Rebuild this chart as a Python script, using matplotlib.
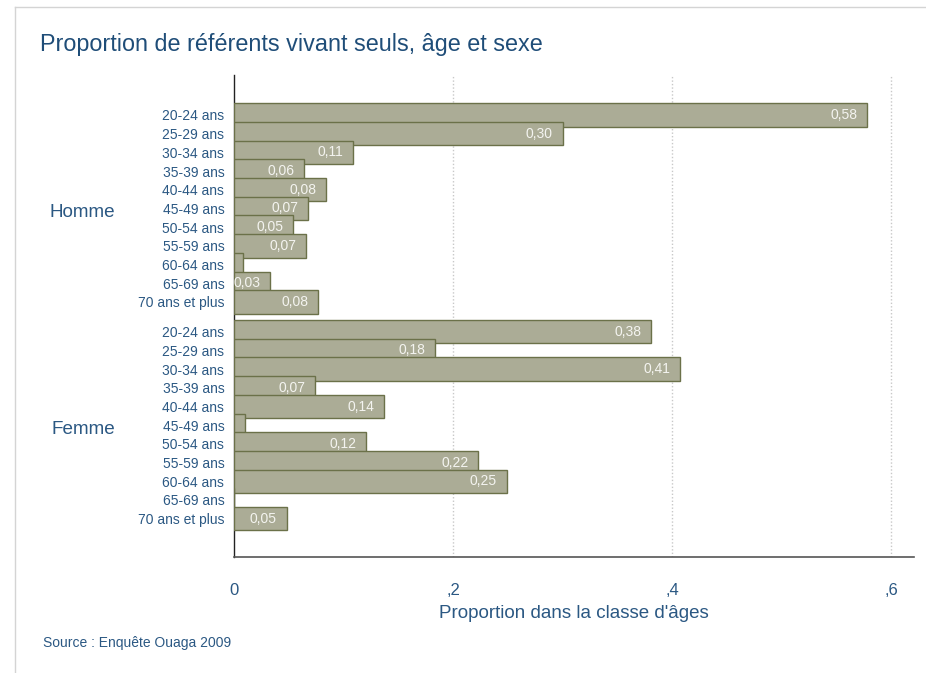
import numpy as np
import matplotlib.pyplot as plt
from matplotlib.lines import Line2D
from matplotlib.transforms import blended_transform_factory, offset_copy

plt.rcParams['font.family'] = ['Liberation Sans', 'DejaVu Sans']

ages = ['20-24 ans', '25-29 ans', '30-34 ans', '35-39 ans', '40-44 ans',
        '45-49 ans', '50-54 ans', '55-59 ans', '60-64 ans', '65-69 ans',
        '70 ans et plus']
groups = ['Homme', 'Femme']
homme = [0.578, 0.300, 0.109, 0.064, 0.084, 0.068, 0.054, 0.066, 0.008, 0.033, 0.077]
femme = [0.381, 0.184, 0.407, 0.074, 0.137, 0.010, 0.121, 0.223, 0.249, 0.0, 0.048]
xticks = [0, 0.2, 0.4, 0.6]
xticklabels = ['0', ',2', ',4', ',6']

blue = '#2b5883'
bar_fc = '#abac96'
bar_ec = '#6b7149'

W, H = 926, 673
fig = plt.figure(figsize=(W / 100, H / 100), dpi=100)

# light frame around the graph
fig.add_artist(Line2D([15 / W, 1], [1 - 7 / H, 1 - 7 / H], transform=fig.transFigure,
                      color='#d4d4d4', lw=1))
fig.add_artist(Line2D([15 / W, 15 / W], [0, 1 - 7 / H], transform=fig.transFigure,
                      color='#d4d4d4', lw=1))

ax = fig.add_axes([234 / W, (H - 557) / H, 680 / W, 482 / H])

n = len(ages)
gap = 1.6
pos_h = np.arange(n)
pos_f = np.arange(n) + n - 1 + gap
pos = np.concatenate([pos_h, pos_f])
vals = homme + femme

ax.barh(pos, vals, height=1.25, color=bar_fc, edgecolor=bar_ec, linewidth=1, zorder=3)

for y, v in zip(pos, vals):
    if v >= 0.02:
        lab = ('%.2f' % v).replace('.', ',')
        ax.annotate(lab, (v, y), xytext=(-7, 0), textcoords='offset points',
                    ha='right', va='center', color='#f4f4f0', fontsize=10, zorder=4)

ax.set_ylim(pos_f[-1] + 2.05, -2.14)
ax.set_xlim(0, 680 / 1095)

ax.set_yticks(pos)
ax.set_yticklabels(ages + ages, color=blue, fontsize=10)
ax.tick_params(axis='y', length=0, pad=7)

ax.set_xticks(xticks)
ax.set_xticklabels(xticklabels, color=blue, fontsize=12)
ax.tick_params(axis='x', length=0, pad=19)

for x in xticks[1:]:
    ax.axvline(x, color='#c8c8c8', lw=1, ls=(0, (1, 1.5)), zorder=1)

for s in ['top', 'right']:
    ax.spines[s].set_visible(False)
ax.spines['left'].set_color('#222222')
ax.spines['bottom'].set_color('#555555')
ax.spines['left'].set_linewidth(1)
ax.spines['bottom'].set_linewidth(1.2)

ax.set_xlabel("Proportion dans la classe d'âges", color=blue, fontsize=13.5, labelpad=5)

tr = blended_transform_factory(fig.transFigure, ax.transData)
tr = offset_copy(tr, fig=fig, y=-4, units='dots')
ax.text(115 / W, pos_h.mean(), groups[0], transform=tr, ha='right', va='center',
        color=blue, fontsize=13.6)
ax.text(115 / W, pos_f.mean(), groups[1], transform=tr, ha='right', va='center',
        color=blue, fontsize=13.6)

fig.text(40 / W, 1 - 44 / H, 'Proportion de référents vivant seuls, âge et sexe',
         color='#1f4d78', fontsize=16.8, va='center', ha='left')
fig.text(43 / W, 1 - 643 / H, 'Source : Enquête Ouaga 2009', color=blue,
         fontsize=10, va='center', ha='left')

fig.savefig('out.png', dpi=100)
